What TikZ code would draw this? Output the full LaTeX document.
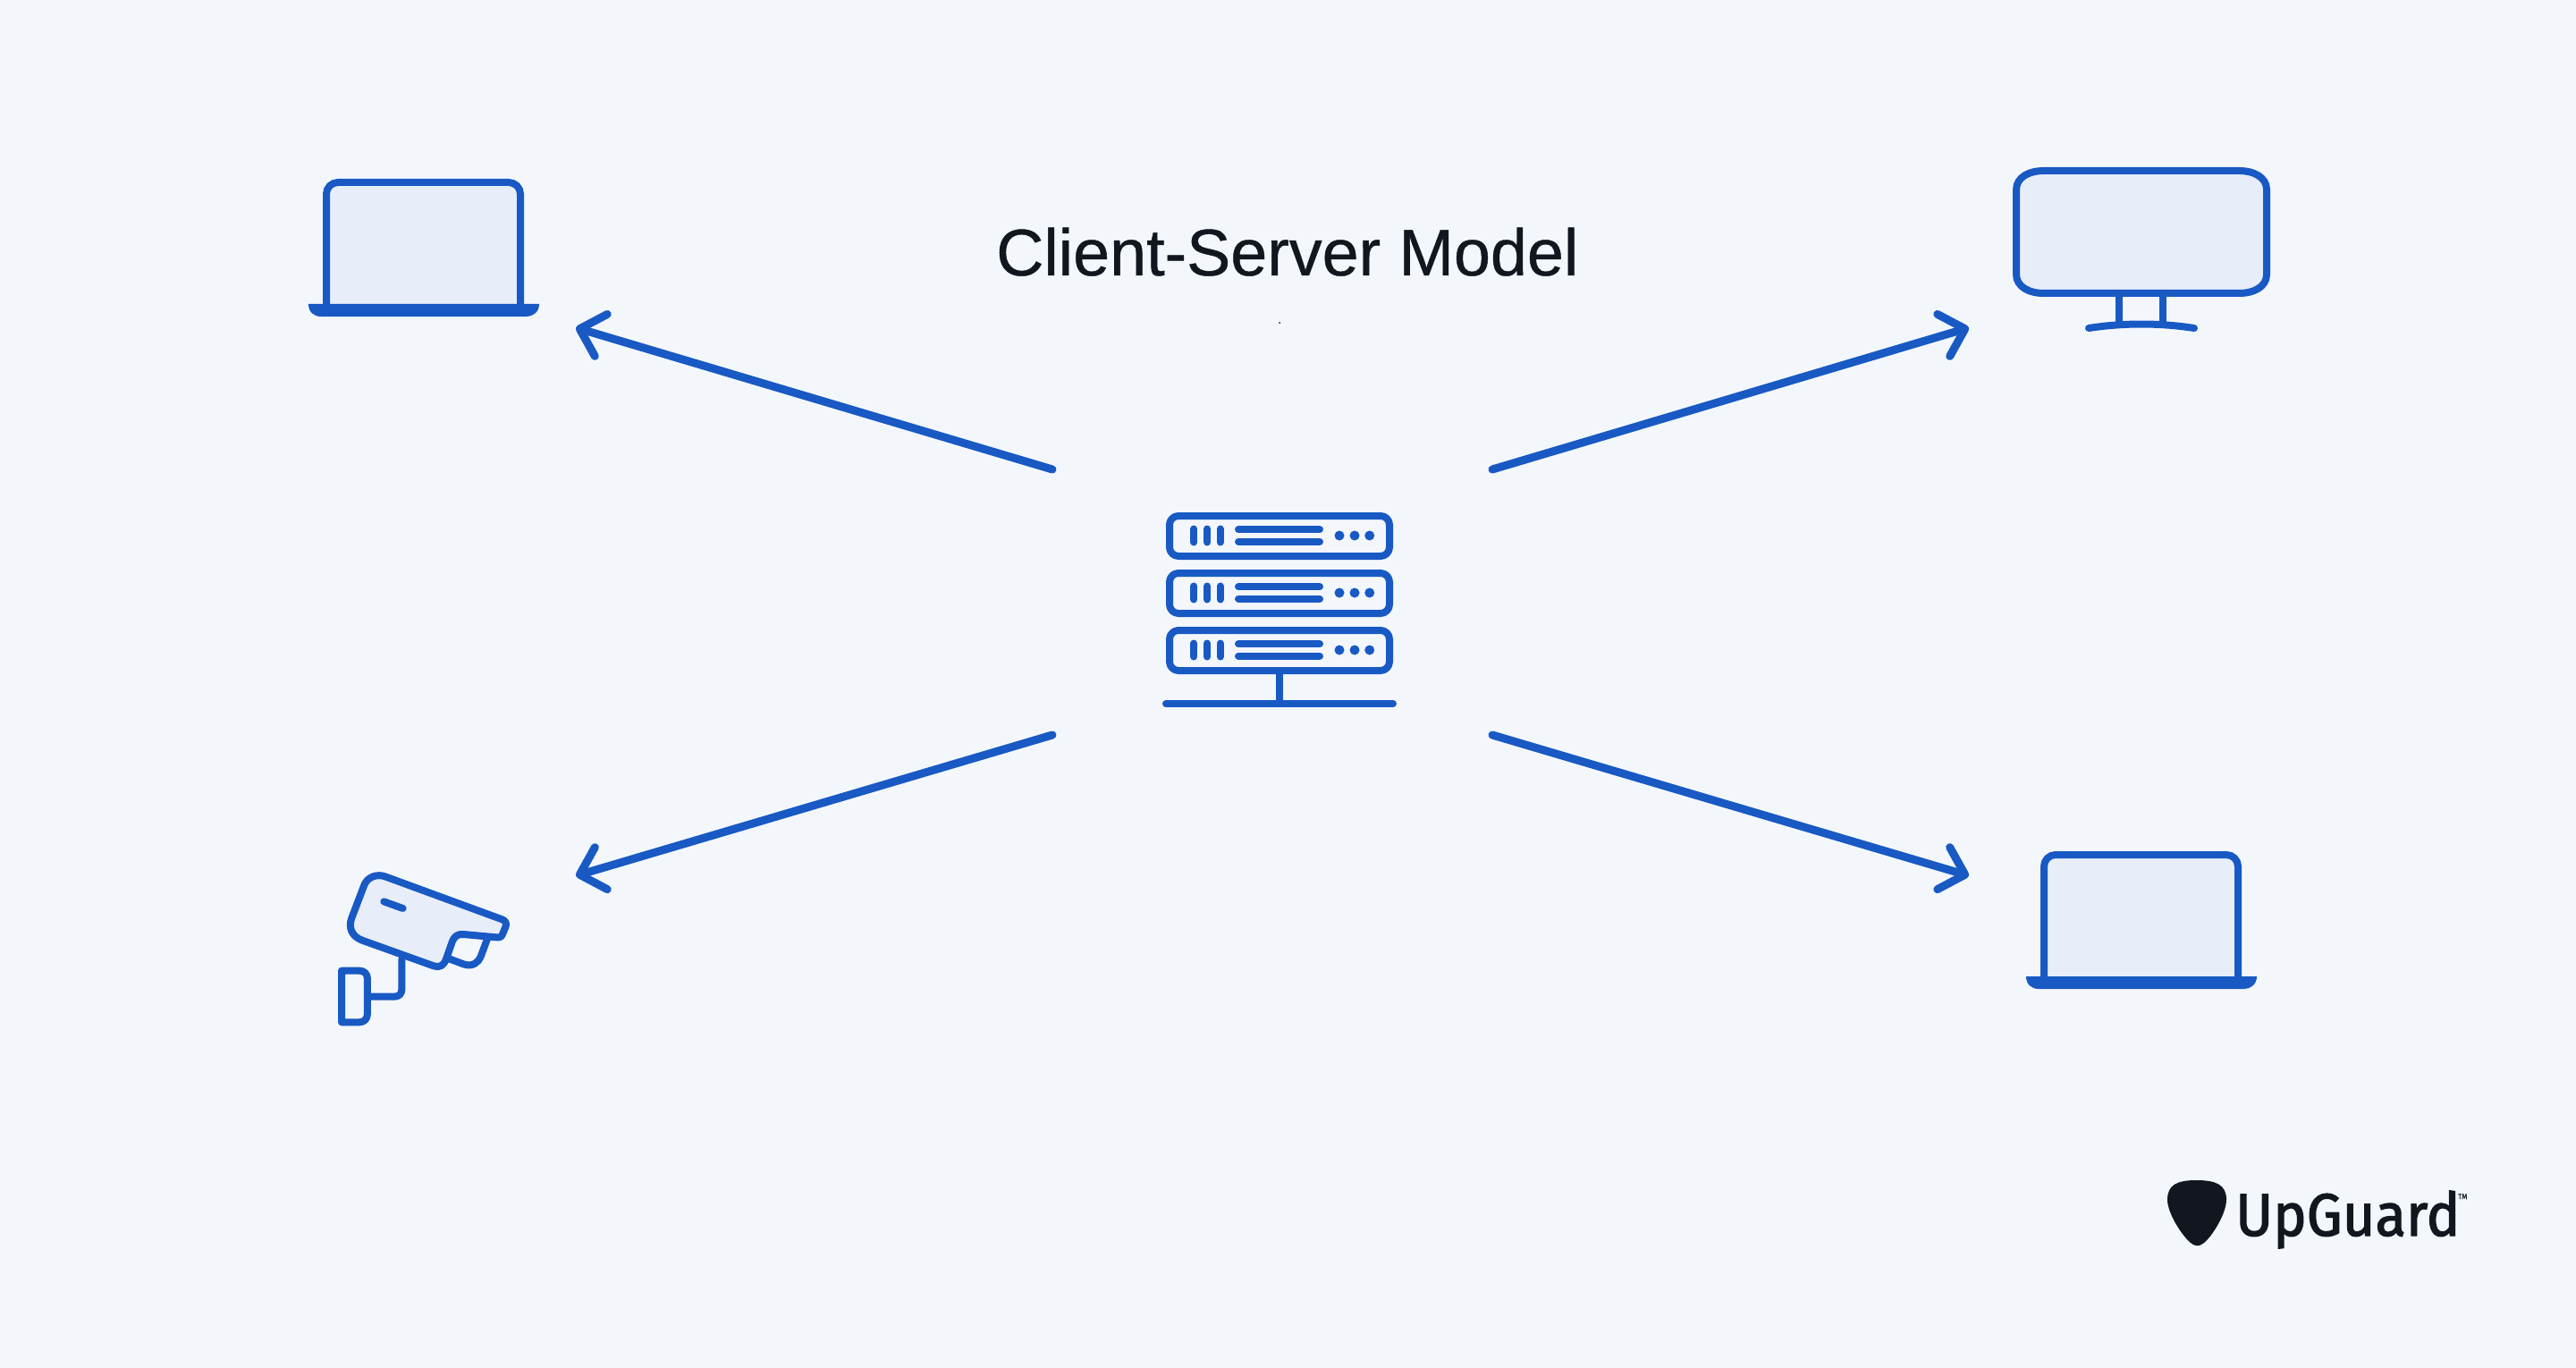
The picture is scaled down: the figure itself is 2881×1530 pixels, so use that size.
\documentclass[tikz,border=0pt]{standalone}
\usepackage{fontspec}
\usetikzlibrary{arrows.meta}
\setmainfont{Liberation Sans}[FakeBold=0.6]
\newfontfamily\titlefont{Liberation Sans}[FakeBold=0.6]
\newfontfamily\logofont{Fira Sans}[FakeBold=2]
\newfontfamily\tmfont{Fira Sans}[FakeBold=1]
\definecolor{bgc}{HTML}{F3F7FC}
\definecolor{bluec}{HTML}{1859C4}
\definecolor{fillc}{HTML}{E7EDF9}
\definecolor{inkc}{HTML}{12161F}
\tikzset{
  icon/.style={draw=bluec,line width=8pt,line cap=round,line join=round},
  iconfill/.style={icon,fill=fillc},
  conn/.style={draw=bluec,line width=9pt,line cap=round,
    -{Straight Barb[length=25pt,width=49pt,line width=9pt,round]}},
  unit/.style={icon,rounded corners=10pt},
  laptopicon/.pic={
    \path[fill=fillc] (365,345) -- (365,204) -- (582,204) -- (582,345) -- cycle;
    \draw[icon,line cap=butt,line join=round,rounded corners=13pt] (365,345) -- (365,204) -- (582,204) -- (582,345);
    \fill[bluec] (345,340) -- (603,340) .. controls (603,349) and (596,354) .. (589,354) -- (359,354) .. controls (351,354) and (345,349) .. (345,340) -- cycle;
  },
  serverrow/.pic={
    \draw[unit] (1308,577) rectangle (1554,622);
    \foreach \bx in {1335.3,1350,1364.7} \draw[icon] (\bx,591.5) -- (\bx,606.5);
    \draw[icon] (1385,592.3) -- (1476,592.3);
    \draw[icon] (1385,605.7) -- (1476,605.7);
    \foreach \dx in {1498,1515,1531.7} \fill[bluec] (\dx,599) circle (5.5pt);
  }
}
\begin{document}
\begin{tikzpicture}[x=1pt,y=-1pt]
\useasboundingbox[fill=bgc] (0,0) rectangle (2881,1530);

% title
\node[inner sep=0pt,anchor=base west,text=inkc] (title) at (1114,308) {\titlefont\fontsize{73.7}{80}\selectfont Client-Server Model};
\fill[inkc] (1431,361) circle (1pt);

% server
\pic {serverrow};
\pic[yshift=-64pt] at (0,0) {serverrow};
\pic[yshift=-128pt] at (0,0) {serverrow};
\coordinate (stemtop) at (1431,750);
\coordinate (stemfoot) at (1431,787);
\draw[icon,line cap=butt] (stemtop) -- (stemfoot);
\coordinate (basel) at (1304,787);
\coordinate (baser) at (1558,787);
\draw[icon] (basel) -- (baser);

% connector ends
\coordinate (tTL) at (1177,525);
\coordinate (tTR) at (1669,525);
\coordinate (tBL) at (1177,822);
\coordinate (tBR) at (1669,822);
\coordinate (hTL) at (644,366.5);
\coordinate (hTR) at (2202,366.5);
\coordinate (hBL) at (644,979.5);
\coordinate (hBR) at (2202,979.5);
\draw[conn] (tTL) -- (hTL);
\draw[conn] (tTR) -- (hTR);
\draw[conn] (tBL) -- (hBL);
\draw[conn] (tBR) -- (hBR);

% laptops
\pic {laptopicon};
\pic[xshift=1921pt,yshift=-752pt] at (0,0) {laptopicon};

% monitor
\draw[icon,line cap=butt] (2370,328) -- (2370,364);
\draw[icon,line cap=butt] (2419,328) -- (2419,364);
\draw[iconfill] (2255,212) .. controls (2255,198) and (2270,191) .. (2285,191) -- (2505,191) .. controls (2520,191) and (2535,198) .. (2535,212) -- (2535,307) .. controls (2535,321) and (2520,328) .. (2505,328) -- (2285,328) .. controls (2270,328) and (2255,321) .. (2255,307) -- cycle;
\draw[icon] (2336,367) .. controls (2375,361) and (2415,361) .. (2454,367);

% camera
\begin{scope}[shift={(360,960)},x=0.3333pt,y=-0.3333pt]
  \draw[iconfill] (215,62) -- (605,205) .. controls (617,210) and (620,218) .. (617,228) -- (606,255) .. controls (602,265) and (595,266) .. (585,265) -- (475,255) .. controls (455,253) and (445,262) .. (438,278) -- (418,335) .. controls (410,360) and (395,368) .. (375,361) -- (135,275) .. controls (100,262) and (88,232) .. (100,200) -- (140,95) .. controls (150,62) and (185,50) .. (215,62) -- cycle;
  \draw[icon] (430,338) -- (475,355) .. controls (505,365) and (525,350) .. (533,330) -- (555,270);
  \draw[icon] (208,145) -- (272,168);
  \draw[icon] (268,338) -- (268,440) .. controls (268,455) and (258,464) .. (243,464) -- (155,464);
  \draw[icon] (66,377) -- (125,377) .. controls (143,377) and (153,388) .. (153,405) -- (153,520) .. controls (153,538) and (143,550) .. (125,550) -- (66,550) -- cycle;
\end{scope}

% logo
\begin{scope}[shift={(2400,1300)},x=0.3333pt,y=-0.3333pt]
  \fill[inkc] (170,60) .. controls (235,60) and (270,75) .. (270,125) .. controls (270,170) and (225,245) .. (195,270) .. controls (180,283) and (165,283) .. (150,270) .. controls (120,245) and (72,170) .. (72,125) .. controls (72,75) and (105,60) .. (170,60) -- cycle;
\end{scope}
\node[inner sep=0pt,anchor=base west,text=inkc] (logo) at (2500,1382) {\scalebox{0.945}[1]{\logofont\fontsize{67}{70}\selectfont UpGuard}};
\node[inner sep=0pt,anchor=base west,text=inkc] (tm) at (2749,1341) {\tmfont\fontsize{8}{9}\selectfont TM};
\end{tikzpicture}
\end{document}
